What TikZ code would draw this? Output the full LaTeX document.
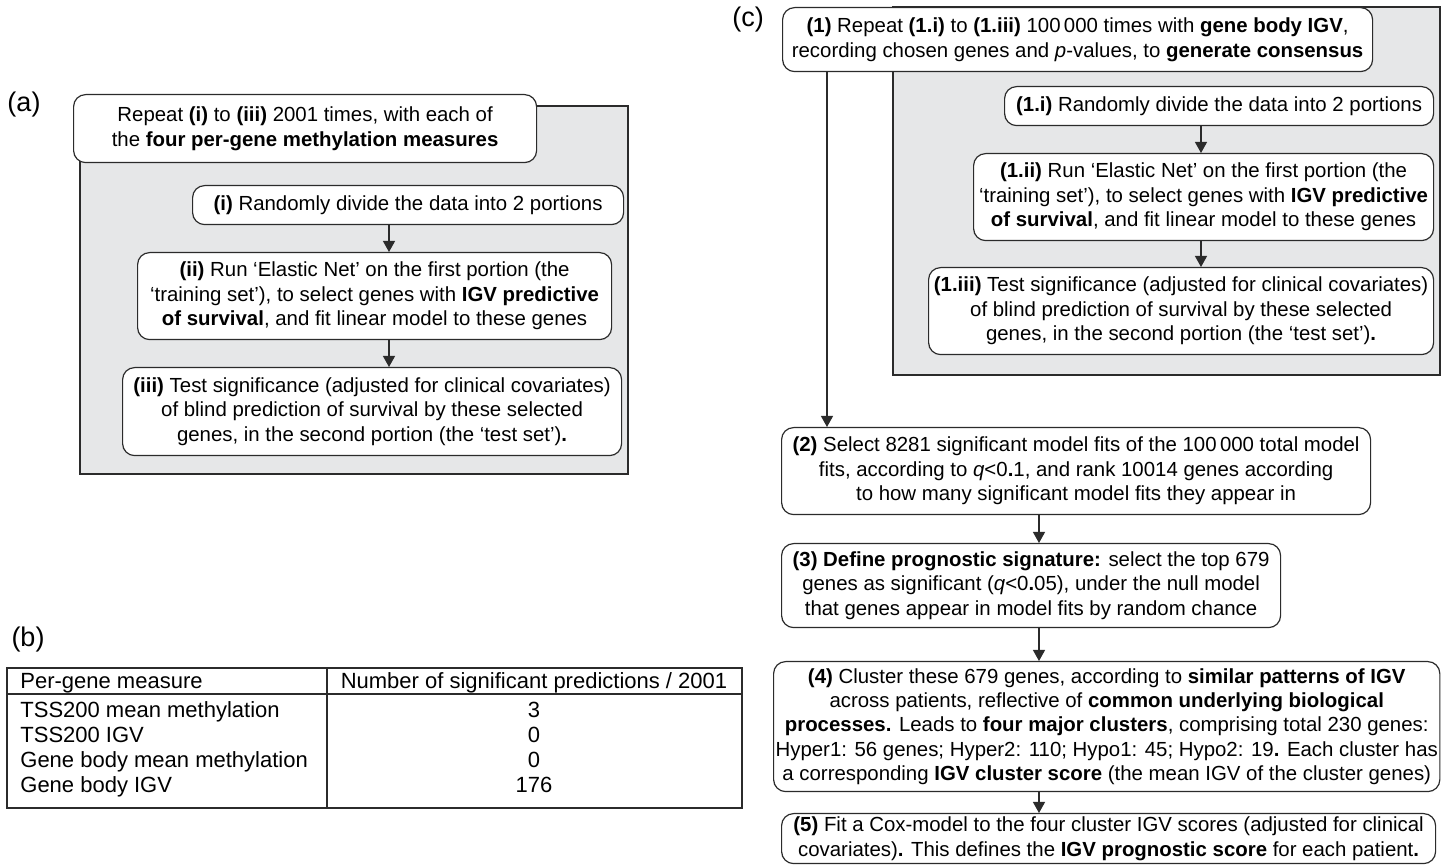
\documentclass[tikz,border=0pt]{standalone}
\usepackage{fontspec}
\setmainfont{Liberation Sans}
\usetikzlibrary{arrows.meta}
\definecolor{panelgray}{HTML}{E6E7E8}
\definecolor{linegray}{HTML}{2B2B2B}

\begin{document}
\begin{tikzpicture}[x=0.5pt,y=-0.5pt,
  box/.style={draw=linegray,line width=0.6pt,rounded corners=6pt,fill=white,
    align=center,anchor=north west,inner sep=1pt,font=\fontsize{10.2}{12.2}\selectfont},
  panel/.style={draw=linegray,line width=0.7pt,fill=panelgray},
  arr/.style={draw=linegray,line width=0.6pt,-{Triangle[length=5.5pt,width=6pt]}},
  tag/.style={font=\fontsize{13.5}{16}\selectfont,inner sep=0pt},
  cell/.style={font=\fontsize{11}{13}\selectfont,inner sep=0pt,anchor=base}]
\def\px{0.5pt}
\useasboundingbox (0,0) rectangle (1448,865);

\coordinate (xA) at (389,0);
\coordinate (xC0) at (827,0);
\coordinate (xC1) at (1201,0);
\coordinate (xC2) at (1039,0);

% (a)
\node[tag] (labA) at (24,105) {(a)};
\draw[panel] (80,106) rectangle (628,474);
\node[box,minimum width=463*\px,minimum height=68*\px] (Atop) at (73,94)
  {Repeat \textbf{(i)} to \textbf{(iii)} 2001 times, with each of\\
   the \textbf{four per-gene methylation measures}};
\node[box,minimum width=431*\px,minimum height=39*\px] (Ai) at (192,185)
  {\textbf{(i)} Randomly divide the data into 2 portions};
\node[box,minimum width=474*\px,minimum height=87*\px] (Aii) at (137,252)
  {\textbf{(ii)} Run ‘Elastic Net’ on the first portion (the\\
   ‘training set’), to select genes with \textbf{IGV predictive}\\
   \textbf{of survival}, and fit linear model to these genes};
\node[box,minimum width=499*\px,minimum height=88*\px] (Aiii) at (122,367)
  {\textbf{(iii)} Test significance (adjusted for clinical covariates)\\
   of blind prediction of survival by these selected\\
   genes, in the second portion (the ‘test set’)\textbf{.}};
\draw[arr] (Ai.south -| xA) -- (Aii.north -| xA);
\draw[arr] (Aii.south -| xA) -- (Aiii.north -| xA);

% (b)
\node[tag] (labB) at (28,640) {(b)};
\draw[line width=0.6pt,draw=linegray] (7,668) rectangle (742,808);
\draw[line width=0.6pt,draw=linegray] (7,694) -- (742,694);
\draw[line width=0.6pt,draw=linegray] (327,668) -- (327,808);
\node[cell,anchor=base west] (h1) at (20,689) {Per-gene measure};
\node[cell] (h2) at (534,689) {Number of significant predictions / 2001};
\node[cell,anchor=base west] (r1) at (20,718) {TSS200 mean methylation};
\node[cell] (v1) at (534,718) {3};
\node[cell,anchor=base west] (r2) at (20,743) {TSS200 IGV};
\node[cell] (v2) at (534,743) {0};
\node[cell,anchor=base west] (r3) at (20,768) {Gene body mean methylation};
\node[cell] (v3) at (534,768) {0};
\node[cell,anchor=base west] (r4) at (20,793) {Gene body IGV};
\node[cell] (v4) at (534,793) {176};

% (c)
\node[tag] (labC) at (748,20) {(c)};
\draw[panel] (893,7) rectangle (1440,375);
\node[box,minimum width=590*\px,minimum height=64*\px] (Ctop) at (782,7)
  {\textbf{(1)} Repeat \textbf{(1.i)} to \textbf{(1.iii)} 100\,000 times with \textbf{gene body IGV},\\
   recording chosen genes and \textit{p}-values, to \textbf{generate consensus}};
\node[box,minimum width=429*\px,minimum height=39*\px] (Ci) at (1004,86)
  {\textbf{(1.i)} Randomly divide the data into 2 portions};
\node[box,minimum width=460*\px,minimum height=87*\px] (Cii) at (973,153)
  {\textbf{(1.ii)} Run ‘Elastic Net’ on the first portion (the\\
   ‘training set’), to select genes with \textbf{IGV predictive}\\
   \textbf{of survival}, and fit linear model to these genes};
\node[box,minimum width=505*\px,minimum height=87*\px] (Ciii) at (928,267)
  {\textbf{(1.iii)} Test significance (adjusted for clinical covariates)\\
   of blind prediction of survival by these selected\\
   genes, in the second portion (the ‘test set’)\textbf{.}};
\draw[arr] (Ci.south -| xC1) -- (Cii.north -| xC1);
\draw[arr] (Cii.south -| xC1) -- (Ciii.north -| xC1);

\node[box,minimum width=589*\px,minimum height=87*\px] (C2) at (781,427)
  {\textbf{(2)} Select 8281 significant model fits of the 100\,000 total model\\
   fits, according to \textit{q}<0\textbf{.}1, and rank 10014 genes according\\
   to how many significant model fits they appear in};
\node[box,minimum width=499*\px,minimum height=84*\px] (C3) at (781,543)
  {\textbf{(3) Define prognostic signature:} select the top 679\\
   genes as significant (\textit{q}<0\textbf{.}05), under the null model\\
   that genes appear in model fits by random chance};
\node[box,minimum width=666*\px,minimum height=130*\px] (C4) at (773,661)
  {\textbf{(4)} Cluster these 679 genes, according to \textbf{similar patterns of IGV}\\
   across patients, reflective of \textbf{common underlying biological}\\
   \textbf{processes.} Leads to \textbf{four major clusters}, comprising total 230 genes:\\
   Hyper1: 56 genes; Hyper2: 110; Hypo1: 45; Hypo2: 19\textbf{.} Each cluster has\\
   a corresponding \textbf{IGV cluster score} (the mean IGV of the cluster genes)};
\node[box,minimum width=654*\px,minimum height=50*\px] (C5) at (781,813)
  {\textbf{(5)} Fit a Cox-model to the four cluster IGV scores (adjusted for clinical\\
   covariates)\textbf{.} This defines the \textbf{IGV prognostic score} for each patient\textbf{.}};
\draw[arr] (Ctop.south -| xC0) -- (C2.north -| xC0);
\draw[arr] (C2.south -| xC2) -- (C3.north -| xC2);
\draw[arr] (C3.south -| xC2) -- (C4.north -| xC2);
\draw[arr] (C4.south -| xC2) -- (C5.north -| xC2);
\end{tikzpicture}
\end{document}
